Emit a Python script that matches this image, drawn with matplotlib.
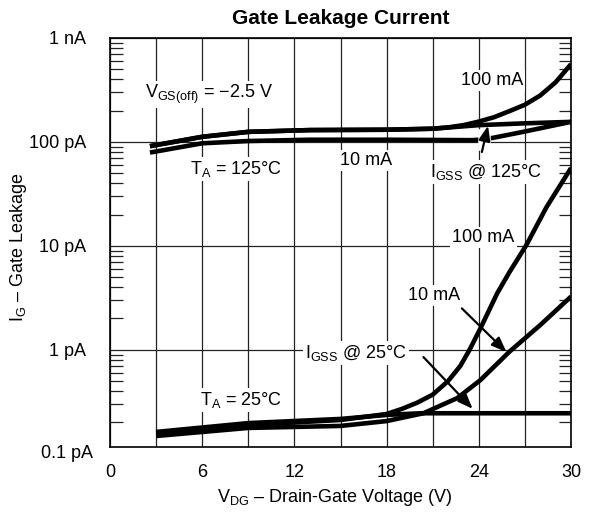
import numpy as np
import matplotlib
matplotlib.use("Agg")
import matplotlib.pyplot as plt
from matplotlib.ticker import FixedLocator, NullFormatter, LogLocator

plt.rcParams['font.family'] = ['Liberation Sans', 'DejaVu Sans']
plt.rcParams['mathtext.fontset'] = 'custom'
plt.rcParams['mathtext.rm'] = 'Liberation Sans'
plt.rcParams['mathtext.it'] = 'Liberation Sans'

# ---- data (currents in pA) ----
# T_A = 125 C
igss125_v = [2.6, 6.0, 9.0, 13.0, 18.0, 21.0, 24.0, 27.0, 30.0]
igss125_i = [91, 112, 125, 130, 131, 134, 145, 151, 156]

ma100_125_v = [2.6, 6.0, 9.0, 13.0, 18.0, 21.0, 22.0, 23.0, 24.0, 25.0, 26.0, 27.0, 28.0, 29.0, 30.0]
ma100_125_i = [91, 112, 125, 130, 131, 134, 138, 145, 157, 173, 198, 228, 280, 375, 560]

ma10_125_v = [2.6, 6.0, 9.0, 13.0, 18.0, 23.6, 24.3, 25.0, 27.0, 30.0]
ma10_125_i = [79, 97, 102, 105, 105, 104, 106, 110, 126, 156]

# T_A = 25 C
igss25_v = [3.0, 9.0, 15.0, 18.0, 20.2, 24.0, 30.0]
igss25_i = [0.162, 0.197, 0.216, 0.236, 0.245, 0.245, 0.245]

ma100_25_v = [3.0, 9.0, 15.0, 18.0, 19.0, 20.0, 21.0, 22.0, 22.8, 23.4, 24.1, 25.2, 26.0, 27.1, 28.4, 30.0]
ma100_25_i = [0.155, 0.189, 0.211, 0.241, 0.27, 0.31, 0.37, 0.50, 0.70, 1.0, 1.6, 3.5, 5.6, 10.2, 23.5, 56]

ma10_25_v = [3.0, 9.0, 15.0, 18.0, 20.4, 21.5, 22.6, 24.1, 26.0, 28.0, 30.0]
ma10_25_i = [0.148, 0.177, 0.185, 0.206, 0.245, 0.29, 0.343, 0.51, 0.96, 1.73, 3.25]

x_ticks = [0, 6, 12, 18, 24, 30]
y_ticks = [1e-13, 1e-12, 1e-11, 1e-10, 1e-9]
y_tick_labels = ['0.1 pA', '1 pA', '10 pA', '100 pA', '1 nA']

PA = 1e-12
FS = 13

fig = plt.figure(figsize=(5.89, 5.13), dpi=100)
ax = fig.add_axes([110 / 589, 1 - 447 / 513, 461 / 589, 409 / 513])
ax.set_yscale('log')
ax.set_xlim(0, 30)
ax.set_ylim(1.16e-13, 1e-9)

# grid
ax.xaxis.set_major_locator(FixedLocator(x_ticks))
ax.xaxis.set_minor_locator(FixedLocator([3, 9, 15, 21, 27]))
ax.set_xticklabels([str(t) for t in x_ticks], fontsize=FS)
ax.tick_params(axis='x', which='both', length=0, pad=12)
ax.grid(True, axis='x', which='both', color='#222222', lw=0.9, zorder=0)

ax.yaxis.set_major_locator(FixedLocator(y_ticks[1:]))
ax.set_yticklabels(y_tick_labels[1:], fontsize=FS)
ax.yaxis.set_minor_locator(LogLocator(base=10, subs=np.arange(2, 10)))
ax.yaxis.set_minor_formatter(NullFormatter())
ax.tick_params(axis='y', which='major', length=0, pad=17)
ax.tick_params(axis='y', which='minor', direction='in', length=9, width=0.9,
               left=True, right=True, color='#222222')
ax.grid(True, axis='y', which='major', color='#222222', lw=0.9, zorder=0)
ax.set_axisbelow(True)
ax.text(-0.037, y_ticks[0], y_tick_labels[0], transform=ax.get_yaxis_transform(),
        ha='right', va='center', fontsize=FS, clip_on=False)

for s in ax.spines.values():
    s.set_linewidth(1.2)

# curves
lw = 3.3
for v, i in [(igss125_v, igss125_i), (ma100_125_v, ma100_125_i), (ma10_125_v, ma10_125_i),
             (igss25_v, igss25_i), (ma100_25_v, ma100_25_i), (ma10_25_v, ma10_25_i)]:
    ax.plot(v, np.array(i) * PA, color='black', lw=lw, solid_capstyle='butt',
            solid_joinstyle='round', zorder=4)

box = dict(facecolor='white', edgecolor='none', pad=1.5)
kw = dict(fontsize=FS, va='baseline', bbox=box, zorder=3)
ax.text(2.28, 263 * PA, r'V$_{\mathrm{GS(off)}}$ = −2.5 V', ha='left', **kw)
ax.text(24.85, 351 * PA, '100 mA', ha='center', **kw)
ax.text(5.2, 48.9 * PA, r'T$_{\mathrm{A}}$ = 125°C', ha='left', **kw)
ax.text(16.66, 59.7 * PA, '10 mA', ha='center', **kw)
ax.text(24.47, 45.8 * PA, r'I$_{\mathrm{GSS}}$ @ 125°C', ha='center', **kw)
ax.text(24.3, 10.9 * PA, '100 mA', ha='center', **kw)
ax.text(21.08, 3.0 * PA, '10 mA', ha='center', **kw)
ax.text(16.0, 0.832 * PA, r'I$_{\mathrm{GSS}}$ @ 25°C', ha='center', **kw)
ax.text(5.86, 0.294 * PA, r'T$_{\mathrm{A}}$ = 25°C', ha='left', **kw)

arrow = dict(arrowstyle='-|>,head_length=0.9,head_width=0.35', color='black', lw=1.6,
             shrinkA=0, shrinkB=0)
ax.annotate('', xy=(24.6, 143 * PA), xytext=(24.2, 80 * PA), arrowprops=arrow, zorder=5)
# white break in the 10 mA line where the 125 C arrow passes
ax.plot([24.35, 24.35], [96 * PA, 116 * PA], color='white', lw=9, zorder=4.5)
ax.annotate('', xy=(25.8, 0.95 * PA), xytext=(22.9, 2.5 * PA), arrowprops=arrow, zorder=5)
ax.annotate('', xy=(23.6, 0.27 * PA), xytext=(20.4, 0.85 * PA), arrowprops=arrow, zorder=5)

ax.set_title('Gate Leakage Current', fontsize=15, fontweight='bold', pad=10)
fig.text(335 / 589, 1 - 497 / 513, r'V$_{\mathrm{DG}}$ – Drain-Gate Voltage (V)', fontsize=FS,
         ha='center', va='center')
fig.text(19 / 589, 1 - 247 / 513, r'I$_{\mathrm{G}}$ – Gate Leakage', fontsize=FS,
         ha='center', va='center', rotation=90)

fig.savefig('out.png', dpi=100)
